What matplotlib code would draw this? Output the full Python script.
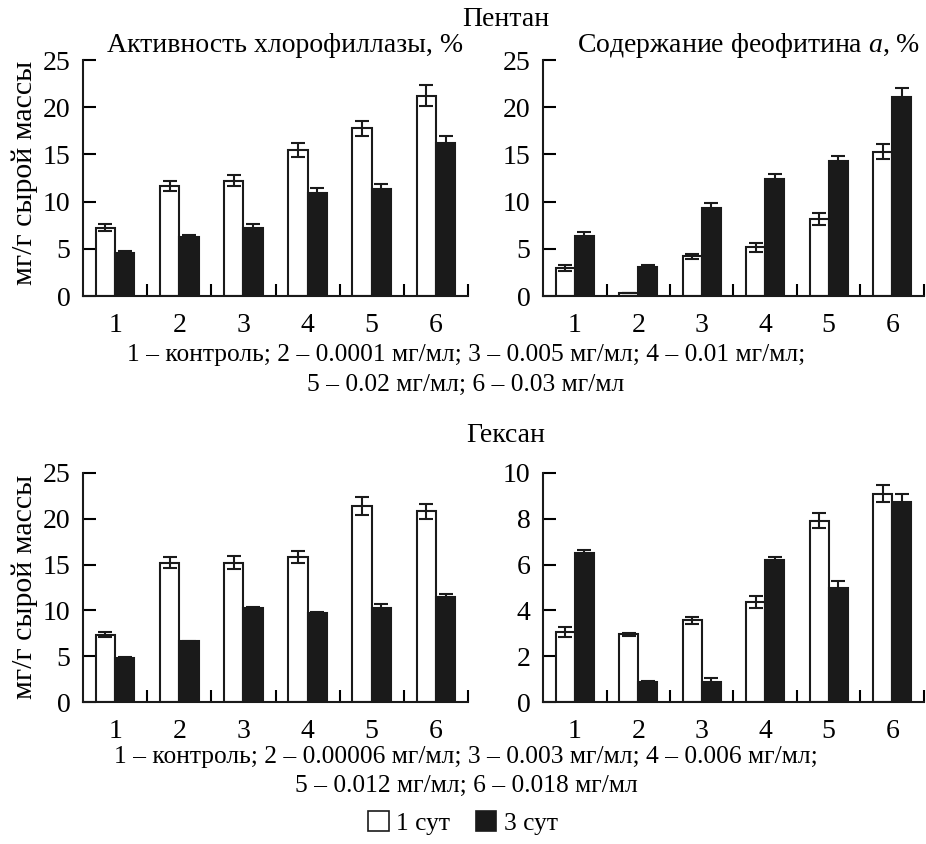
"""Chlorophyllase activity and pheophytin a content, pentane and hexane."""
import matplotlib
matplotlib.use("Agg")
import matplotlib.pyplot as plt
import numpy as np
from matplotlib.patches import Patch
from matplotlib.ticker import FixedLocator

plt.rcParams["font.family"] = ["Liberation Serif", "DejaVu Serif"]
plt.rcParams["mathtext.fontset"] = "custom"
plt.rcParams["mathtext.rm"] = "Liberation Serif"
plt.rcParams["mathtext.it"] = "Liberation Serif:italic"

groups = ["1", "2", "3", "4", "5", "6"]

# Pentane: chlorophyllase activity
pent_act_1 = [7.25, 11.65, 12.2, 15.45, 17.75, 21.2]
pent_act_1_err = [0.35, 0.55, 0.6, 0.75, 0.8, 1.1]
pent_act_3 = [4.6, 6.2, 7.25, 10.95, 11.3, 16.25]
pent_act_3_err = [0.2, 0.3, 0.4, 0.5, 0.55, 0.7]
# Pentane: pheophytin a content
pent_feo_1 = [3.0, 0.3, 4.2, 5.15, 8.15, 15.3]
pent_feo_1_err = [0.3, 0.0, 0.25, 0.5, 0.6, 0.75]
pent_feo_3 = [6.35, 3.1, 9.3, 12.35, 14.3, 21.1]
pent_feo_3_err = [0.4, 0.15, 0.6, 0.6, 0.55, 0.9]
# Hexane: chlorophyllase activity
hex_act_1 = [7.35, 15.2, 15.2, 15.8, 21.4, 20.8]
hex_act_1_err = [0.25, 0.6, 0.7, 0.65, 1.0, 0.85]
hex_act_3 = [4.8, 6.65, 10.3, 9.7, 10.25, 11.45]
hex_act_3_err = [0.15, 0.05, 0.1, 0.1, 0.4, 0.35]
# Hexane: pheophytin a content
hex_feo_1 = [3.05, 2.95, 3.57, 4.38, 7.92, 9.1]
hex_feo_1_err = [0.22, 0.08, 0.15, 0.27, 0.32, 0.36]
hex_feo_3 = [6.5, 0.86, 0.86, 6.2, 5.0, 8.75]
hex_feo_3_err = [0.13, 0.07, 0.2, 0.15, 0.3, 0.35]

cap_pent = ["1 – контроль; 2 – 0.0001 мг/мл; 3 – 0.005 мг/мл; 4 – 0.01 мг/мл;",
            "5 – 0.02 мг/мл; 6 – 0.03 мг/мл"]
cap_hex = ["1 – контроль; 2 – 0.00006 мг/мл; 3 – 0.003 мг/мл; 4 – 0.006 мг/мл;",
           "5 – 0.012 мг/мл; 6 – 0.018 мг/мл"]

W, H = 926, 844
FS = 20
FS_CAP = 18.4
FS_YLAB = 21.5
INK = "#1a1a1a"


def fx(px):
    return px / W


def fy(py):
    return 1 - py / H


def panel(rect, v1, e1, v3, e3, ymax, ystep):
    ax = fig.add_axes(rect)
    x = np.arange(1, len(groups) + 1)
    w = 0.3
    ax.bar(x - w / 2, v1, w, color="white", edgecolor=INK, lw=1.5, zorder=2)
    ax.bar(x + w / 2, v3, w, color=INK, edgecolor=INK, lw=1.5, zorder=2)
    ax.errorbar(x - w / 2, v1, yerr=e1, fmt="none", ecolor=INK,
                elinewidth=1.5, capsize=5, capthick=1.5, zorder=3)
    ax.errorbar(x + w / 2, v3, yerr=e3, fmt="none", ecolor=INK,
                elinewidth=1.5, capsize=5, capthick=1.5, zorder=3)
    ax.set_xlim(0.5, 6.5)
    ax.set_ylim(0, ymax)
    ax.set_yticks(np.arange(0, ymax + 0.01, ystep))
    ax.set_xticks(x)
    ax.set_xticklabels(groups)
    ax.xaxis.set_minor_locator(FixedLocator(np.arange(1.5, 6.6, 1.0)))
    ax.tick_params(axis="x", which="major", length=0, pad=12, labelsize=FS)
    ax.tick_params(axis="x", which="minor", direction="in", length=9, width=1.5)
    ax.tick_params(axis="y", direction="in", length=9, width=1.5, pad=9, labelsize=FS)
    for s in ["top", "right"]:
        ax.spines[s].set_visible(False)
    for s in ["left", "bottom"]:
        ax.spines[s].set_linewidth(1.5)
        ax.spines[s].set_color(INK)
    return ax


fig = plt.figure(figsize=(W / 100, H / 100), dpi=100)

lx, lw_ = fx(83), fx(468 - 83)
rx, rw_ = fx(543), fx(924 - 543)
tb, th = fy(296), (296 - 60) / H
bb, bh = fy(702), (702 - 473) / H

ax1 = panel([lx, tb, lw_, th], pent_act_1, pent_act_1_err, pent_act_3, pent_act_3_err, 25, 5)
ax2 = panel([rx, tb, rw_, th], pent_feo_1, pent_feo_1_err, pent_feo_3, pent_feo_3_err, 25, 5)
ax3 = panel([lx, bb, lw_, bh], hex_act_1, hex_act_1_err, hex_act_3, hex_act_3_err, 25, 5)
ax4 = panel([rx, bb, rw_, bh], hex_feo_1, hex_feo_1_err, hex_feo_3, hex_feo_3_err, 10, 2)

fig.text(fx(25), fy(173), "мг/г сырой массы", rotation=90, ha="center", va="center", fontsize=FS_YLAB)
fig.text(fx(25), fy(587), "мг/г сырой массы", rotation=90, ha="center", va="center", fontsize=FS_YLAB)

fig.text(fx(506), fy(20), "Пентан", ha="center", va="center", fontsize=FS)
fig.text(fx(285), fy(45), "Активность хлорофиллазы, %", ha="center", va="center", fontsize=FS)
fig.text(fx(749), fy(45), "Содержание феофитина $a$, %", ha="center", va="center", fontsize=FS)
fig.text(fx(466), fy(355), cap_pent[0], ha="center", va="center", fontsize=FS_CAP)
fig.text(fx(466), fy(385), cap_pent[1], ha="center", va="center", fontsize=FS_CAP)

fig.text(fx(506), fy(436), "Гексан", ha="center", va="center", fontsize=FS)
fig.text(fx(466), fy(757), cap_hex[0], ha="center", va="center", fontsize=FS_CAP)
fig.text(fx(466), fy(786), cap_hex[1], ha="center", va="center", fontsize=FS_CAP)

handles = [Patch(facecolor="white", edgecolor=INK, lw=1.2),
           Patch(facecolor=INK, edgecolor=INK, lw=1.2)]
fig.legend(handles, ["1 сут", "3 сут"], loc="center", bbox_to_anchor=(fx(463), fy(823)),
           ncol=2, frameon=False, fontsize=FS_CAP, handlelength=0.8, handleheight=0.8,
           handletextpad=0.3, columnspacing=1.0)

fig.savefig("out.png", dpi=100)
